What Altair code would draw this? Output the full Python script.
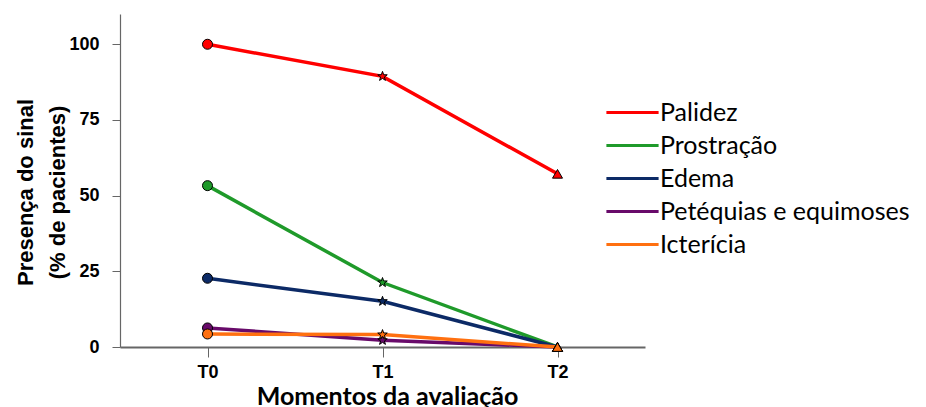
import altair as alt
import pandas as pd

# ---- data ----
series = ["Palidez", "Prostração", "Edema", "Petéquias e equimoses", "Icterícia"]
moments = ["T0", "T1", "T2"]
palidez = [100.0, 89.4, 57.2]
prostracao = [53.3, 21.3, 0.0]
edema = [22.7, 15.1, 0.0]
petequias = [6.3, 2.2, 0.0]
ictericia = [4.3, 4.1, 0.0]
colors = ["#ff0000", "#1f9a2a", "#0c2a66", "#680a6a", "#ff7010"]
y_ticks = [0, 25, 50, 75, 100]

STAR = ("M0,-1L0.235,-0.324L0.951,-0.309L0.380,0.124L0.588,0.809L0,0.4"
        "L-0.588,0.809L-0.380,0.124L-0.951,-0.309L-0.235,-0.324Z")
shapes = ["circle", STAR, "triangle-up"]
LEGEND_LINE = "M-1.45,0H1.45"

rows = []
for s, vals in zip(series, [palidez, prostracao, edema, petequias, ictericia]):
    for m, v in zip(moments, vals):
        rows.append({"sinal": s, "momento": m, "valor": v})
df = pd.DataFrame(rows)

x = alt.X(
    "momento:N", sort=moments,
    scale=alt.Scale(type="point", padding=0.5),
    axis=alt.Axis(
        title="Momentos da avaliação", titleFont="Lato", titleFontSize=25,
        titleFontWeight="bold", titleColor="black", titleX=267, titleY=57,
        titleBaseline="alphabetic", titleAlign="center",
        labelFont="Liberation Sans", labelFontSize=18, labelFontWeight="bold",
        labelColor="black", labelAngle=0, labelPadding=6,
        tickSize=10, tickColor="#666666", domainColor="#666666", domainWidth=2,
        grid=False,
    ),
)
y = alt.Y(
    "valor:Q",
    scale=alt.Scale(domain=[0, 110], nice=False),
    axis=alt.Axis(
        values=y_ticks, title=["Presença do sinal", "(% de pacientes)"],
        titleFont="Liberation Sans", titleFontSize=22, titleFontWeight="bold",
        titleColor="black", titleAngle=270, titleX=-88, titleY=178,
        titleBaseline="alphabetic", titleAlign="center", titleLineHeight=32,
        labelFont="Liberation Sans", labelFontSize=18, labelFontWeight="bold",
        labelColor="black", labelPadding=13,
        tickSize=8, tickColor="#666666", domainColor="#666666", domainWidth=1.2,
        grid=False,
    ),
)

lines = alt.Chart(df).mark_line(strokeWidth=3.5).encode(
    x=x, y=y,
    color=alt.Color(
        "sinal:N", sort=series,
        scale=alt.Scale(domain=series, range=colors),
        legend=alt.Legend(
            title=None, orient="none", legendX=485, legendY=79,
            symbolType=LEGEND_LINE, symbolSize=1296, symbolStrokeWidth=3,
            symbolOffset=8,
            labelFont="Lato", labelFontSize=25, labelColor="black",
            labelOffset=8, rowPadding=0, labelLimit=0,
        ),
    ),
)

points = alt.Chart(df).mark_point(
    filled=True, stroke="black", strokeWidth=1, opacity=1, size=100
).encode(
    x=x, y=y,
    fill=alt.Fill("sinal:N", scale=alt.Scale(domain=series, range=colors), legend=None),
    shape=alt.Shape("momento:N", scale=alt.Scale(domain=moments, range=shapes), legend=None),
)

chart = (
    alt.layer(lines, points)
    .properties(
        width=525, height=333,
        padding={"left": 112, "top": 6, "right": 273, "bottom": 62},
        autosize=alt.AutoSizeParams(type="none"),
    )
    .configure_view(stroke=None)
)

chart.save("out.html", embed_options={"renderer": "svg", "actions": False})
